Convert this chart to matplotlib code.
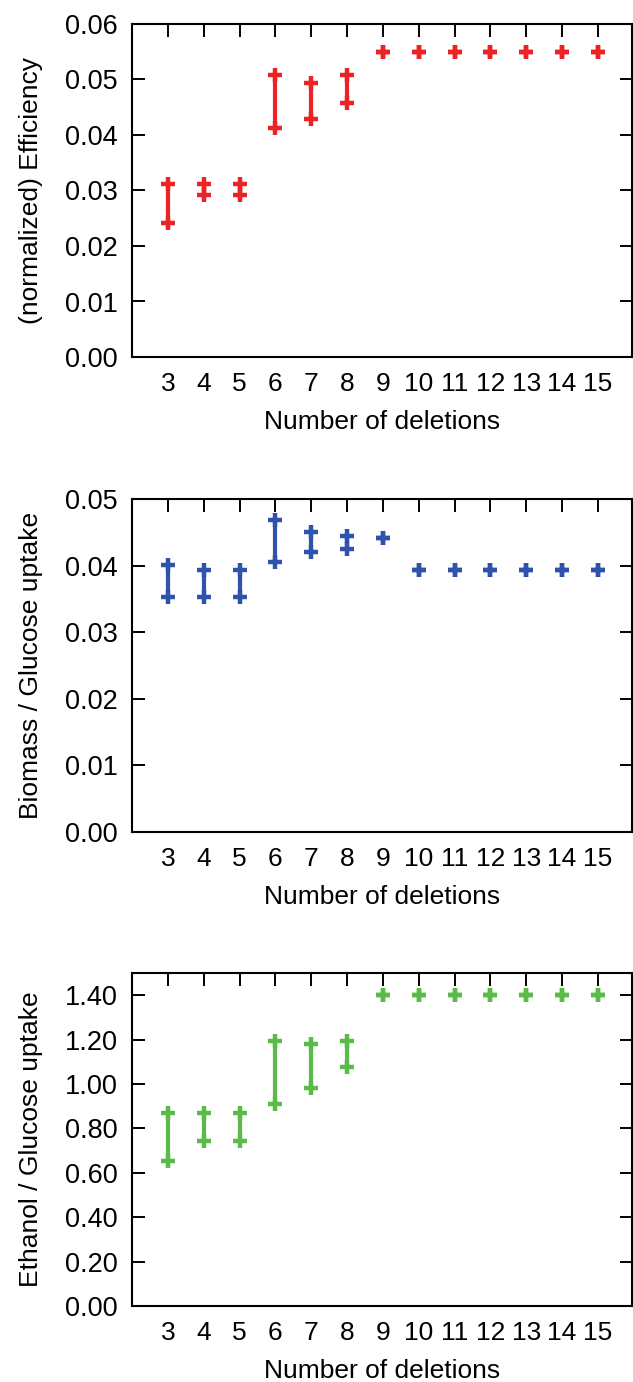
import numpy as np
import matplotlib
matplotlib.use("Agg")
import matplotlib.pyplot as plt

# Số lần xoá gen (trục x)
deletions = [3, 4, 5, 6, 7, 8, 9, 10, 11, 12, 13, 14, 15]

# Hiệu suất (chuẩn hoá): min / max
eff_lo = [0.0242, 0.0291, 0.0291, 0.0413, 0.0429, 0.0458, 0.0550, 0.0550, 0.0550, 0.0550, 0.0550, 0.0550, 0.0550]
eff_hi = [0.0311, 0.0312, 0.0312, 0.0508, 0.0494, 0.0508, 0.0550, 0.0550, 0.0550, 0.0550, 0.0550, 0.0550, 0.0550]

# Biomass / Glucose uptake
bio_lo = [0.0353, 0.0353, 0.0353, 0.0406, 0.0420, 0.0425, 0.0442, 0.0393, 0.0393, 0.0393, 0.0393, 0.0393, 0.0393]
bio_hi = [0.0401, 0.0394, 0.0394, 0.0468, 0.0450, 0.0444, 0.0442, 0.0393, 0.0393, 0.0393, 0.0393, 0.0393, 0.0393]

# Ethanol / Glucose uptake
eth_lo = [0.653, 0.742, 0.745, 0.911, 0.984, 1.075, 1.40, 1.40, 1.40, 1.40, 1.40, 1.40, 1.40]
eth_hi = [0.871, 0.871, 0.871, 1.195, 1.180, 1.195, 1.40, 1.40, 1.40, 1.40, 1.40, 1.40, 1.40]

plt.rcParams['font.family'] = ['Liberation Sans', 'DejaVu Sans']

panels = [
    ("(normalized) Efficiency", eff_lo, eff_hi, "#ec2224", (0, 0.06), np.arange(0, 0.061, 0.01), "{:.2f}"),
    ("Biomass / Glucose uptake", bio_lo, bio_hi, "#2f52aa", (0, 0.05), np.arange(0, 0.051, 0.01), "{:.2f}"),
    ("Ethanol / Glucose uptake", eth_lo, eth_hi, "#5bbb48", (0, 1.5), np.arange(0, 1.41, 0.2), "{:.2f}"),
]

# vị trí các ô (tính theo pixel của ảnh gốc)
W, H = 633, 1382
boxes = [(24, 357), (499, 832), (973, 1306)]
left, right = 132, 632

fig = plt.figure(figsize=(W / 100, H / 100), dpi=100)

for (label, lo, hi, color, ylim, yticks, fmt), (top, bot) in zip(panels, boxes):
    ax = fig.add_axes([left / W, 1 - bot / H, (right - left) / W, (bot - top) / H])
    x = np.array(deletions)
    lo = np.array(lo)
    hi = np.array(hi)
    ax.vlines(x, lo, hi, color=color, linewidth=3)
    ax.plot(x, lo, linestyle='none', marker='+', markersize=10, markeredgewidth=3.2, color=color)
    ax.plot(x, hi, linestyle='none', marker='+', markersize=10, markeredgewidth=3.2, color=color)

    ax.set_xlim(2, 15.95)
    ax.set_ylim(*ylim)
    ax.set_xticks(deletions)
    ax.set_yticks(yticks)
    ax.set_yticklabels([fmt.format(v) for v in yticks])
    ax.tick_params(axis='x', which='both', bottom=False, top=True, labelbottom=True,
                   direction='in', length=9, width=1.4, pad=11, labelsize=19)
    ax.tick_params(axis='y', which='both', left=True, right=True, direction='in',
                   length=9, width=1.4, pad=10, labelsize=19.5)
    for s in ax.spines.values():
        s.set_linewidth(1.5)

    ax.set_xlabel("Number of deletions", fontsize=19)
    ax.xaxis.set_label_coords(0.5, -0.158)
    ax.set_ylabel(label, fontsize=19)
    ax.yaxis.set_label_coords(-0.178, 0.5)

fig.savefig("out.png", dpi=100)
plt.close(fig)
